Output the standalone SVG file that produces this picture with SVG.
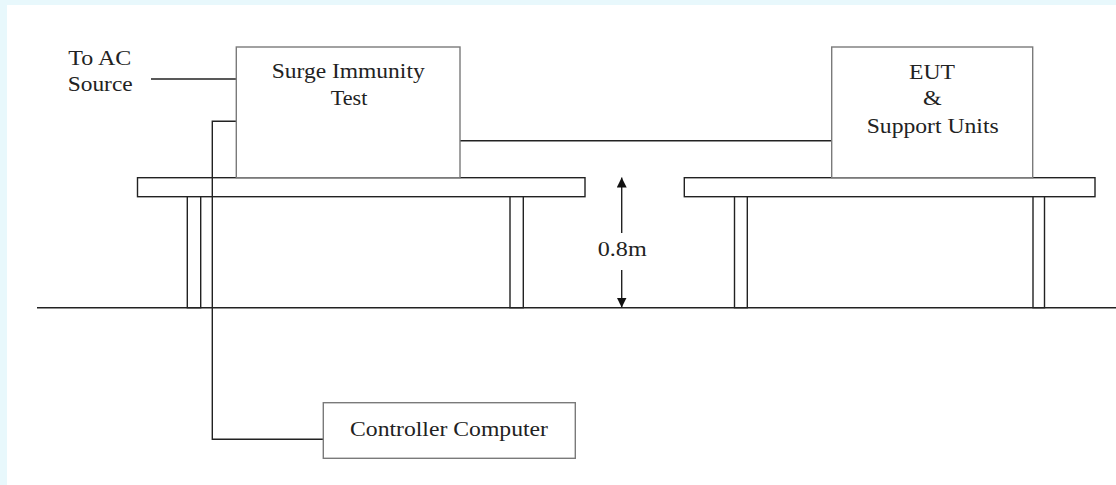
<svg xmlns="http://www.w3.org/2000/svg" width="1116" height="485" viewBox="0 0 1116 485">
<style>
.t{font-family:"Liberation Serif","Times New Roman",serif;font-size:22px;fill:#222}
.box{fill:#fff;stroke:#7a7a7a;stroke-width:1.4}
.tbl{fill:#fff;stroke:#222;stroke-width:1.4}
.w{fill:none;stroke:#222;stroke-width:1.4}
</style>
<defs>
<marker id="ah" viewBox="0 0 10 10" refX="10" refY="5" markerWidth="10" markerHeight="10" markerUnits="userSpaceOnUse" orient="auto">
<path d="M0,0 L10,5 L0,10 Z" fill="#111"/>
</marker>
</defs>
<rect x="0" y="0" width="1116" height="485" fill="#fff"/>
<rect x="0" y="0" width="1116" height="5" fill="#e8f8fc"/>
<rect x="0" y="0" width="7" height="485" fill="#e8f8fc"/>

<g id="ground"><line class="w" x1="37" y1="307.7" x2="1116" y2="307.7"/></g>

<g id="table-left">
<rect class="tbl" x="137.5" y="177.7" width="447.5" height="19"/>
<rect class="tbl" x="187.3" y="196.7" width="13.4" height="111"/>
<rect class="tbl" x="510" y="196.7" width="13.3" height="111"/>
</g>
<g id="table-right">
<rect class="tbl" x="684.3" y="177.7" width="410.7" height="19"/>
<rect class="tbl" x="734.5" y="196.7" width="12.8" height="111"/>
<rect class="tbl" x="1033" y="196.7" width="11.5" height="111"/>
</g>

<g id="connectors">
<line class="w" x1="151" y1="79" x2="236.3" y2="79"/>
<polyline class="w" points="236.3,121.2 212.3,121.2 212.3,439.3 323.3,439.3"/>
<line class="w" x1="460" y1="140.7" x2="831.7" y2="140.7"/>
<line class="w" x1="621.7" y1="233" x2="621.7" y2="177.5" marker-end="url(#ah)"/>
<line class="w" x1="621.7" y1="270" x2="621.7" y2="307.5" marker-end="url(#ah)"/>
</g>

<g id="surge">
<rect class="box" x="236.3" y="47" width="223.7" height="130.7"/>
<text class="t" x="271.7" y="78" textLength="153" lengthAdjust="spacingAndGlyphs">Surge Immunity</text>
<text class="t" x="330.7" y="105" textLength="36.6" lengthAdjust="spacingAndGlyphs">Test</text>
</g>

<g id="eut">
<rect class="box" x="831.7" y="47" width="201" height="130.7"/>
<text class="t" x="909" y="79" textLength="46" lengthAdjust="spacingAndGlyphs">EUT</text>
<text class="t" x="923" y="105.3" textLength="18.7" lengthAdjust="spacingAndGlyphs">&amp;</text>
<text class="t" x="866.7" y="132.5" textLength="132" lengthAdjust="spacingAndGlyphs">Support Units</text>
</g>

<g id="controller">
<rect class="box" x="323.3" y="402.7" width="252" height="55.6"/>
<text class="t" x="350" y="436" textLength="198" lengthAdjust="spacingAndGlyphs">Controller Computer</text>
</g>

<g id="ac-label">
<text class="t" x="68.3" y="64.5" textLength="63" lengthAdjust="spacingAndGlyphs">To AC</text>
<text class="t" x="67.7" y="90.5" textLength="65" lengthAdjust="spacingAndGlyphs">Source</text>
</g>

<g id="height-label">
<text class="t" x="597.7" y="256" textLength="49" lengthAdjust="spacingAndGlyphs">0.8m</text>
</g>
</svg>
